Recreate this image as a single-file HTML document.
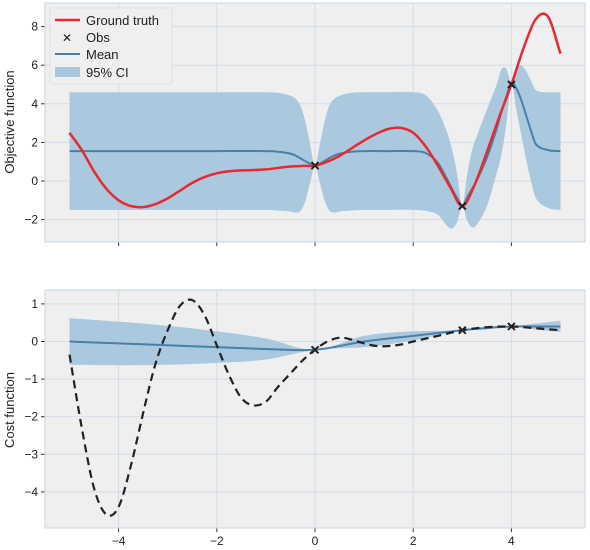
<!DOCTYPE html>
<html><head><meta charset="utf-8">
<style>
body{margin:0;background:#fff;}
svg{display:block;font-family:"Liberation Sans","DejaVu Sans",sans-serif;}
</style></head>
<body>
<svg id="chart" width="590" height="550" viewBox="0 0 590 550">
<rect x="45" y="3" width="540" height="239" fill="#efefef"/>
<rect x="45" y="290" width="540" height="238" fill="#efefef"/>
<g id="grid"></g>
<g id="marks"></g>
<rect x="45" y="3" width="540" height="239" fill="none" stroke="#c5d6e6"/>
<rect x="45" y="290" width="540" height="238" fill="none" stroke="#c5d6e6"/>
<text transform="translate(14,122) rotate(-90)" text-anchor="middle" font-size="13" fill="#222">Objective function</text>
<text transform="translate(14,410) rotate(-90)" text-anchor="middle" font-size="13" fill="#222">Cost function</text>
<g>
<rect x="50" y="8" width="122" height="76" fill="#efefef" stroke="#dde3ea" rx="2"/>
<line x1="55" y1="20" x2="80" y2="20" stroke="#e8292f" stroke-width="2.5"/>
<text x="86" y="25" font-size="13" fill="#222">Ground truth</text>
<text x="67" y="42" font-size="12" font-weight="bold" text-anchor="middle" fill="#222">✕</text>
<text x="86" y="42" font-size="13" fill="#222">Obs</text>
<line x1="55" y1="54" x2="80" y2="54" stroke="#4a7fa8" stroke-width="2"/>
<text x="86" y="59" font-size="13" fill="#222">Mean</text>
<rect x="55" y="67" width="25" height="10" fill="#aac9de"/>
<text x="86" y="77" font-size="13" fill="#222">95% CI</text>
</g>
</svg>
<script>
const topXs=[-5,-4.75,-4.5,-4.25,-4,-3.75,-3.5,-3.25,-3,-2.75,-2.5,-2.25,-2,-1.75,-1.5,-1.25,-1,-0.75,-0.5,-0.25,0,0.25,0.5,0.75,1,1.25,1.5,1.75,2,2.25,2.5,2.75,3,3.25,3.5,3.75,4,4.25,4.5,4.75,5];
const truth=[2.5,1.6,0.5,-0.4,-1.0,-1.3,-1.35,-1.2,-0.9,-0.5,-0.1,0.2,0.4,0.5,0.55,0.57,0.6,0.68,0.75,0.78,0.8,1.0,1.3,1.7,2.1,2.45,2.7,2.75,2.5,1.8,0.8,-0.3,-1.3,-0.2,1.5,3.3,5.0,6.9,8.4,8.5,6.6];
const gpXs=[-5,-4,-3,-2,-1,-0.75,-0.5,-0.4,-0.3,-0.2,-0.1,0,0.1,0.2,0.3,0.4,0.5,0.75,1,1.5,2,2.25,2.5,2.7,2.8,2.9,3,3.1,3.2,3.3,3.5,3.7,3.8,3.9,4,4.1,4.2,4.3,4.4,4.5,4.75,5];
const topMean=[1.55,1.55,1.55,1.55,1.55,1.52,1.42,1.32,1.18,1.03,0.9,0.8,0.9,1.05,1.2,1.32,1.42,1.52,1.55,1.55,1.55,1.45,0.95,0.05,-0.45,-0.9,-1.3,-0.85,-0.4,0.05,1.2,2.7,3.6,4.4,5.1,4.8,4.2,3.4,2.6,1.9,1.6,1.55];
const topStd=[3.05,3.05,3.05,3.05,3.05,3.05,3.0,2.95,2.75,2.1,1.0,0,1.0,2.1,2.75,2.95,3.0,3.05,3.05,3.05,3.05,3.0,2.7,2.4,2.0,1.2,0,1.2,2.0,2.3,2.5,2.3,2.2,1.4,0,1.1,1.8,2.3,2.6,2.8,3.0,3.05];
const topObsX=[0,3,4];
const topObsY=[0.8,-1.3,5.0];
const costXs=[-5,-4.75,-4.5,-4.25,-4,-3.75,-3.5,-3.25,-3,-2.75,-2.5,-2.25,-2,-1.75,-1.5,-1.25,-1,-0.75,-0.5,-0.25,0,0.25,0.5,0.75,1,1.25,1.5,1.75,2,2.5,3,3.5,4,4.5,5];
const cost=[-0.35,-2.3,-3.9,-4.6,-4.4,-3.3,-1.9,-0.6,0.3,0.95,1.1,0.7,-0.1,-0.9,-1.5,-1.7,-1.6,-1.2,-0.85,-0.5,-0.22,0.0,0.1,0.05,-0.05,-0.12,-0.12,-0.08,0.0,0.15,0.3,0.38,0.4,0.35,0.3];
const costMeanXs=[-5,-4,-3,-2,-1,0,1,2,3,3.5,4,4.5,5];
const costMean=[0.0,-0.05,-0.1,-0.15,-0.2,-0.22,0.0,0.15,0.3,0.36,0.4,0.4,0.4];
const costStd=[0.62,0.58,0.52,0.42,0.28,0,0.15,0.12,0,0.04,0,0.08,0.15];
const costObsX=[0,3,4];
const costObsY=[-0.22,0.3,0.4];
const topYTicks=[-2,0,2,4,6,8];
const costYTicks=[-4,-3,-2,-1,0,1];
const xTicks=[-4,-2,0,2,4];

const NS="http://www.w3.org/2000/svg";
const X=v=>315+v*49.1;
const Ytop=v=>181-v*19.3;
const Ybot=v=>341.5-v*37.6;
const grid=document.getElementById('grid'), marks=document.getElementById('marks');
function mk(tag,attrs,parent){const e=document.createElementNS(NS,tag);for(const k in attrs)e.setAttribute(k,attrs[k]);parent.appendChild(e);return e;}
function spline(pts){let d=`M${pts[0][0].toFixed(1)},${pts[0][1].toFixed(1)}`;
 for(let i=0;i<pts.length-1;i++){const p0=pts[i-1]||pts[i],p1=pts[i],p2=pts[i+1],p3=pts[i+2]||p2;
  const h=p2[0]-p1[0];
  const s1=(p2[0]-p0[0])||1, s2=(p3[0]-p1[0])||1;
  const c1=[p1[0]+h/3,p1[1]+(p2[1]-p0[1])/s1*h/3],c2=[p2[0]-h/3,p2[1]-(p3[1]-p1[1])/s2*h/3];
  d+=`C${c1[0].toFixed(1)},${c1[1].toFixed(1)} ${c2[0].toFixed(1)},${c2[1].toFixed(1)} ${p2[0].toFixed(1)},${p2[1].toFixed(1)}`;}
 return d;}
function splineCont(pts){return spline(pts).replace(/^M/,'L');}
function rev(pts){return pts.slice().reverse();}
xTicks.forEach(t=>{
 let g=mk('line',{x1:X(t),x2:X(t),y1:3,y2:242,stroke:'#d3dde8'},grid);
 
 g=mk('line',{x1:X(t),x2:X(t),y1:290,y2:528,stroke:'#d3dde8'},grid);
 
 g=mk('line',{x1:X(t),x2:X(t),y1:242,y2:246,stroke:'#333'},grid);
 
 g=mk('line',{x1:X(t),x2:X(t),y1:528,y2:532,stroke:'#333'},grid);
 
 const tx=mk('text',{x:X(t),y:545,'text-anchor':'middle','font-size':12,fill:'#222'},grid);
 
 tx.textContent=t<0?'\u2212'+(-t):t;
});
topYTicks.forEach(t=>{
 let g=mk('line',{x1:45,x2:585,y1:Ytop(t),y2:Ytop(t),stroke:'#d3dde8'},grid);
 
 g=mk('line',{x1:41,x2:45,y1:Ytop(t),y2:Ytop(t),stroke:'#333'},grid);
 
 const tx=mk('text',{x:38,y:Ytop(t)+4,'text-anchor':'end','font-size':12,fill:'#222'},grid);
 
 tx.textContent=t<0?'\u2212'+(-t):t;
});
costYTicks.forEach(t=>{
 let g=mk('line',{x1:45,x2:585,y1:Ybot(t),y2:Ybot(t),stroke:'#d3dde8'},grid);
 
 g=mk('line',{x1:41,x2:45,y1:Ybot(t),y2:Ybot(t),stroke:'#333'},grid);
 
 const tx=mk('text',{x:38,y:Ybot(t)+4,'text-anchor':'end','font-size':12,fill:'#222'},grid);
 
 tx.textContent=t<0?'\u2212'+(-t):t;
});
// top CI
let up=gpXs.map((x,i)=>[X(x),Ytop(topMean[i]+topStd[i])]);
let lo=rev(gpXs.map((x,i)=>[X(x),Ytop(topMean[i]-topStd[i])]));
function splineRev(pts){ // pts in decreasing x; build on reversed then reverse path by building forward on flipped x
 const f=pts.map(p=>[-p[0],p[1]]);
 return splineCont(f).replace(/(-?\d+\.?\d*),(-?\d+\.?\d*)/g,(m,a,b)=>`${(-parseFloat(a)).toFixed(1)},${b}`);}
let e=mk('path',{d:spline(up)+splineRev(lo)+'Z',fill:'#aac9de'},marks);

e=mk('path',{d:spline(gpXs.map((x,i)=>[X(x),Ytop(topMean[i])])),fill:'none',stroke:'#4a7fa8','stroke-width':2},marks);

e=mk('path',{d:spline(topXs.map((x,i)=>[X(x),Ytop(truth[i])])),fill:'none',stroke:'#e8292f','stroke-width':2.5},marks);

topObsX.forEach((x,i)=>{const cx=X(x),cy=Ytop(topObsY[i]);
 const o=mk('path',{d:`M${cx-3.5},${cy-3.5}L${cx+3.5},${cy+3.5}M${cx-3.5},${cy+3.5}L${cx+3.5},${cy-3.5}`,stroke:'#222','stroke-width':2},marks);
 });
// bottom
up=costMeanXs.map((x,i)=>[X(x),Ybot(costMean[i]+costStd[i])]);
lo=rev(costMeanXs.map((x,i)=>[X(x),Ybot(costMean[i]-costStd[i])]));
e=mk('path',{d:spline(up)+splineRev(lo)+'Z',fill:'#aac9de'},marks);

e=mk('path',{d:spline(costMeanXs.map((x,i)=>[X(x),Ybot(costMean[i])])),fill:'none',stroke:'#4a7fa8','stroke-width':2},marks);

e=mk('path',{d:spline(costXs.map((x,i)=>[X(x),Ybot(cost[i])])),fill:'none',stroke:'#222','stroke-width':2.2,'stroke-dasharray':'8,5'},marks);

costObsX.forEach((x,i)=>{const cx=X(x),cy=Ybot(costObsY[i]);
 const o=mk('path',{d:`M${cx-3.5},${cy-3.5}L${cx+3.5},${cy+3.5}M${cx-3.5},${cy+3.5}L${cx+3.5},${cy-3.5}`,stroke:'#222','stroke-width':2},marks);
 });
</script>
</body></html>
